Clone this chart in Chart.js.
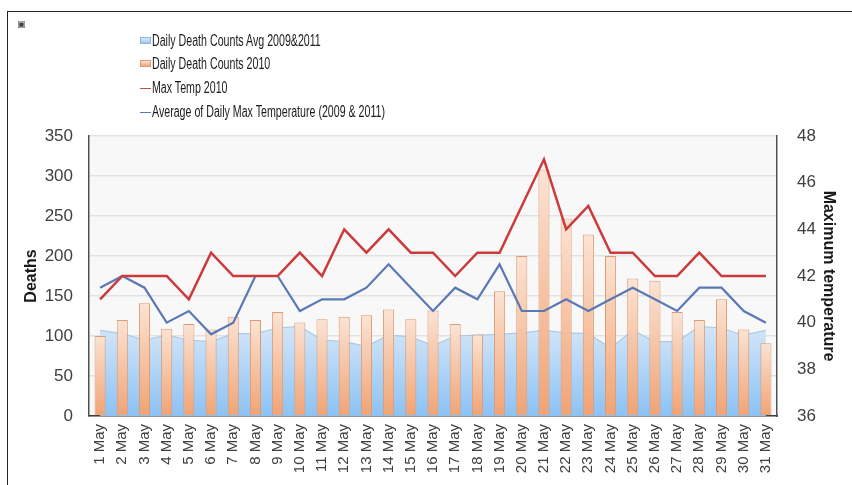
<!DOCTYPE html>
<html>
<head>
<meta charset="utf-8">
<script src="https://cdn.jsdelivr.net/npm/chart.js@4/dist/chart.umd.min.js"></script>
<style>
  html, body { margin:0; padding:0; background:#fff; }
  #wrap { position:relative; width:852px; height:485px; overflow:hidden; font-family:'Liberation Sans', Arial, sans-serif; }
  #c { position:absolute; left:0; top:0; }
  #frame { position:absolute; left:7px; top:11px; width:860px; height:500px; border-top:1.5px solid #222; border-left:1.5px solid #222; }
  #mark { position:absolute; left:17px; top:19px; font-size:9px; line-height:10px; font-weight:bold; color:#444; font-family:'DejaVu Sans', sans-serif; }
  .lg { position:absolute; left:152px; height:20px; line-height:20px; font-size:16px; color:#1a1a1a; white-space:nowrap; transform:scaleX(0.665); transform-origin:left center; }
  .bx { position:absolute; left:140px; width:11px; height:7px; box-sizing:border-box; }
  .ln { position:absolute; left:140px; width:11px; height:0; }
</style>
</head>
<body>
<div id="wrap">
  <canvas id="c" width="852" height="485"></canvas>
  <div id="frame"></div>
  <div id="mark">▣</div>
  <div class="bx" style="top:37px;background:linear-gradient(#dbeaf8,#9cc8f3);border:1px solid #8fb5dc;"></div>
  <div class="lg" style="top:31px;">Daily Death Counts Avg 2009&amp;2011</div>
  <div class="bx" style="top:60px;background:linear-gradient(#fbe1cf,#f1a676);border:1px solid #dc9c78;"></div>
  <div class="lg" style="top:54px;">Daily Death Counts 2010</div>
  <div class="ln" style="top:88px;border-top:1.5px solid #c0504d;"></div>
  <div class="lg" style="top:78px;">Max Temp 2010</div>
  <div class="ln" style="top:112px;border-top:1.5px solid #5a78b5;"></div>
  <div class="lg" style="top:102px;">Average of Daily Max Temperature (2009 &amp; 2011)</div>
</div>
<script>
const days = ['1 May','2 May','3 May','4 May','5 May','6 May','7 May','8 May','9 May','10 May',
  '11 May','12 May','13 May','14 May','15 May','16 May','17 May','18 May','19 May','20 May',
  '21 May','22 May','23 May','24 May','25 May','26 May','27 May','28 May','29 May','30 May','31 May'];

const deathsAvg0911 = [107,103,95,101,95,93,103,103,110,112,95,93,87,101,99,88,100,101,102,104,107,104,103,85,107,93,93,112,110,101,107];

const deaths2010 = [100,120,141,109,115,108,124,120,130,117,121,124,126,133,121,132,115,102,156,200,308,247,227,200,172,169,130,120,146,108,91];

const maxTemp2010 = [41,42,42,42,41,43,42,42,42,43,42,44,43,44,43,43,42,43,43,45,47,44,45,43,43,42,42,43,42,42,42];

const avgMaxTemp0911 = [41.5,42,41.5,40,40.5,39.5,40,42,42,40.5,41,41,41.5,42.5,41.5,40.5,41.5,41,42.5,40.5,40.5,41,40.5,41,41.5,41,40.5,41.5,41.5,40.5,40];

const deathTicks = [0,50,100,150,200,250,300,350];
const tempTicks = [36,38,40,42,44,46,48];

const FONT = "'Liberation Sans', Arial, sans-serif";

const plotBg = {
  id:'plotBg',
  beforeDraw(chart){
    const {ctx, chartArea:a} = chart;
    if(!a) return;
    ctx.save();
    ctx.fillStyle = '#f8f8f8';
    ctx.fillRect(a.left, a.top, a.right-a.left, a.bottom-a.top);
    ctx.restore();
  }
};

function barGrad(ctx){
  const chart = ctx.chart;
  if(!chart.chartArea || ctx.type !== 'data') return '#f5b890';
  const ys = chart.scales.y;
  const top = ys.getPixelForValue(ctx.raw);
  const bot = ys.getPixelForValue(0);
  if(!isFinite(top) || !isFinite(bot) || bot - top < 1) return '#f5b890';
  const g = chart.ctx.createLinearGradient(0, top, 0, bot);
  g.addColorStop(0, '#fbe3d3');
  g.addColorStop(1, '#f1a373');
  return g;
}

function areaGrad(ctx){
  const chart = ctx.chart;
  const a = chart.chartArea;
  if(!a) return '#bcd9f5';
  const ys = chart.scales.y;
  const top = ys.getPixelForValue(115);
  const g = chart.ctx.createLinearGradient(0, top, 0, a.bottom);
  g.addColorStop(0, '#d6e7f8');
  g.addColorStop(1, '#8cc2f4');
  return g;
}

new Chart(document.getElementById('c'), {
  data: {
    labels: days,
    datasets: [
      { type:'line', label:'Max Temp 2010', data:maxTemp2010, yAxisID:'y1', borderColor:'#cc3a3c', borderWidth:2.5, pointRadius:0, tension:0, fill:false, order:1 },
      { type:'line', label:'Average of Daily Max Temperature (2009 & 2011)', data:avgMaxTemp0911, yAxisID:'y1', borderColor:'#5a78b5', borderWidth:2.2, pointRadius:0, tension:0, fill:false, order:2 },
      { type:'bar', label:'Daily Death Counts 2010', data:deaths2010, yAxisID:'y', backgroundColor:barGrad, borderColor:'#dc9a74', borderWidth:1, barPercentage:0.5, categoryPercentage:1, order:3 },
      { type:'line', label:'Daily Death Counts Avg 2009&2011', data:deathsAvg0911, yAxisID:'y', borderColor:'#a9cbea', borderWidth:1.2, backgroundColor:areaGrad, fill:'origin', pointRadius:0, tension:0, order:4 }
    ]
  },
  options: {
    responsive:false,
    animation:false,
    layout:{ padding:{ top:136, left:0, right:0, bottom:0 } },
    plugins:{ legend:{ display:false }, tooltip:{ enabled:false } },
    scales:{
      x:{
        grid:{ display:false, drawTicks:false },
        border:{ display:true, color:'#3a3a3a', width:1.5 },
        ticks:{ minRotation:90, maxRotation:90, autoSkip:false, padding:8, color:'#404040', font:{ family:FONT, size:15 } },
        afterFit(s){ s.height = 69; }
      },
      y:{
        position:'left', min:0, max:350,
        afterBuildTicks(s){ s.ticks = deathTicks.map(v => ({ value:v })); },
        ticks:{ padding:16, color:'#404040', font:{ family:FONT, size:17 } },
        grid:{ color:'#e2e2e2', lineWidth:1.5, drawTicks:false },
        border:{ display:true, color:'#505050', width:1.5 },
        title:{ display:true, text:'Deaths', color:'#1a1a1a', font:{ family:FONT, size:16, weight:'bold' }, padding:{ top:22, bottom:0 } },
        afterFit(s){ s.width = 89; }
      },
      y1:{
        position:'right', min:36, max:48,
        afterBuildTicks(s){ s.ticks = tempTicks.map(v => ({ value:v })); },
        ticks:{ padding:20, color:'#404040', font:{ family:FONT, size:17 } },
        grid:{ display:false, drawTicks:false },
        border:{ display:true, color:'#505050', width:1.5 },
        title:{ display:true, text:'Maximum temperature', color:'#1a1a1a', font:{ family:FONT, size:16, weight:'bold' }, padding:{ top:14, bottom:0 } },
        afterFit(s){ s.width = 75; }
      }
    }
  },
  plugins:[plotBg]
});
</script>
</body>
</html>
